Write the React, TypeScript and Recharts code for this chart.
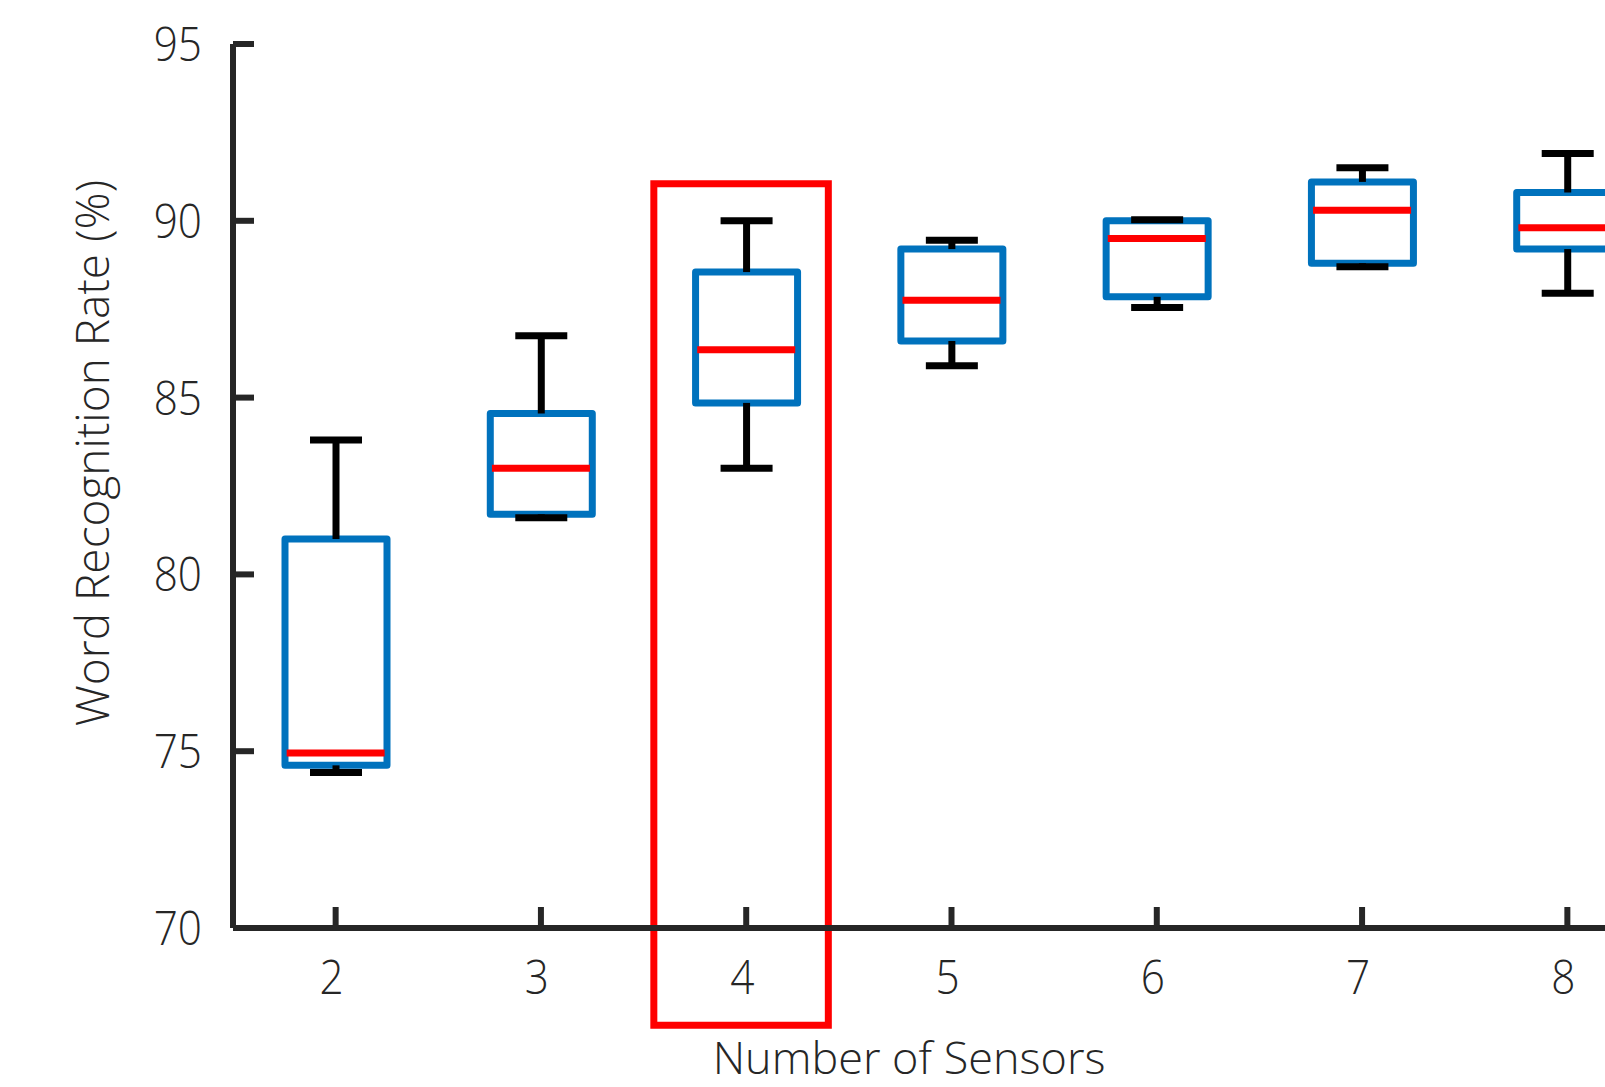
import React from 'react';
import { ComposedChart, Bar, Line, XAxis, YAxis, ReferenceArea } from 'recharts';

const sensors = ['2', '3', '4', '5', '6', '7', '8'];
const sensorNums = [2, 3, 4, 5, 6, 7, 8];
const minVals = [74.4, 81.6, 83.0, 85.9, 87.55, 88.7, 87.95];
const q1Vals = [74.6, 81.7, 84.85, 86.6, 87.85, 88.8, 89.2];
const medianVals = [74.95, 83.0, 86.35, 87.75, 89.5, 90.3, 89.8];
const q3Vals = [81.0, 84.55, 88.55, 89.2, 90.0, 91.1, 90.8];
const maxVals = [83.8, 86.75, 90.0, 89.45, 90.03, 91.5, 91.9];
const yTicks = [70, 75, 80, 85, 90, 95];
const highlightX = [3.55, 4.4];
const highlightY = [67.25, 91.05];

const data = sensors.map((n, i) => ({
  n,
  idx: sensorNums[i],
  box: [q1Vals[i], q3Vals[i]],
  upper: [q3Vals[i], maxVals[i]],
  lower: [minVals[i], q1Vals[i]],
  median: medianVals[i],
}));

const AXIS = '#262626';
const BLUE = '#0072BD';
const RED = '#FF0000';
const FONT = '"Open Sans", "DejaVu Sans", sans-serif';

const norm = (p: any) => {
  const top = Math.min(p.y, p.y + p.height);
  const h = Math.abs(p.height);
  return { top, h, x: p.x, w: p.width };
};

const BoxShape = (p: any) => {
  const { top, h, x, w } = norm(p);
  return <rect x={x} y={top} width={w} height={h} fill="#fff" stroke={BLUE} strokeWidth={7} strokeLinejoin="round" />;
};

const UpperShape = (p: any) => {
  const { top, h, x, w } = norm(p);
  const cx = x + w / 2;
  return (
    <g>
      <line x1={cx} x2={cx} y1={top} y2={top + h} stroke="#000" strokeWidth={7} />
      <line x1={x} x2={x + w} y1={top} y2={top} stroke="#000" strokeWidth={7} />
    </g>
  );
};

const LowerShape = (p: any) => {
  const { top, h, x, w } = norm(p);
  const cx = x + w / 2;
  return (
    <g>
      <line x1={cx} x2={cx} y1={top} y2={top + h} stroke="#000" strokeWidth={7} />
      <line x1={x} x2={x + w} y1={top + h} y2={top + h} stroke="#000" strokeWidth={7} />
    </g>
  );
};

const MedianDot = (p: any) => {
  const { cx, cy, index } = p;
  return <line key={`m${index}`} x1={cx - 49} x2={cx + 49} y1={cy} y2={cy} stroke={RED} strokeWidth={7} />;
};

const YTick = (p: any) => {
  const { x, y, payload } = p;
  return (
    <g>
      <line x1={x} x2={x + 21} y1={y} y2={y} stroke={AXIS} strokeWidth={6} />
      <text
        x={0}
        y={0}
        transform={`translate(${x - 31},${y + 17}) scale(0.9,1)`}
        textAnchor="end"
        fill={AXIS}
        fontSize={47}
        fontFamily={FONT}
        fontWeight={300}
      >
        {payload.value}
      </text>
    </g>
  );
};

const XTick = (p: any) => {
  const { x, y, payload } = p;
  return (
    <g>
      <line x1={x} x2={x} y1={y} y2={y - 21} stroke={AXIS} strokeWidth={6} />
      <text
        x={0}
        y={0}
        transform={`translate(${x - 4},${y + 66}) scale(0.9,1)`}
        textAnchor="middle"
        fill={AXIS}
        fontSize={47}
        fontFamily={FONT}
        fontWeight={300}
      >
        {payload.value}
      </text>
    </g>
  );
};

const TopTick = (p: any) => {
  const { x, y } = p;
  return <line x1={x} x2={x} y1={y} y2={y + 21} stroke={AXIS} strokeWidth={6} />;
};

export default function App() {
  return (
    <div style={{ position: 'fixed', left: 0, top: 0, width: 1605, height: 1087, overflow: 'hidden', background: '#fff' }}>
      <ComposedChart
        width={1700}
        height={1087}
        data={data}
        margin={{ top: 44, right: 30, bottom: 0, left: 83 }}
      >
        <XAxis
          xAxisId="box"
          dataKey="n"
          type="category"
          height={159}
          axisLine={{ stroke: AXIS, strokeWidth: 6 }}
          tickLine={false}
          tickSize={0}
          tickMargin={0}
          tick={<XTick />}
          interval={0}
        />
        <XAxis
          xAxisId="top"
          dataKey="n"
          type="category"
          orientation="top"
          height={0}
          axisLine={{ stroke: AXIS, strokeWidth: 6 }}
          tickLine={false}
          tickSize={0}
          tickMargin={0}
          tick={<TopTick />}
          interval={0}
        />
        <XAxis xAxisId="up" dataKey="n" type="category" hide />
        <XAxis xAxisId="low" dataKey="n" type="category" hide />
        <XAxis xAxisId="num" dataKey="idx" type="number" domain={[1.5, 8.5]} hide />
        <YAxis
          domain={[70, 95]}
          ticks={yTicks}
          width={150}
          axisLine={{ stroke: AXIS, strokeWidth: 6 }}
          tickLine={false}
          tickSize={0}
          tickMargin={0}
          tick={<YTick />}
          interval={0}
        />
        <Bar xAxisId="box" dataKey="box" barSize={102} shape={<BoxShape />} isAnimationActive={false} />
        <Bar xAxisId="up" dataKey="upper" barSize={52} shape={<UpperShape />} isAnimationActive={false} />
        <Bar xAxisId="low" dataKey="lower" barSize={52} shape={<LowerShape />} isAnimationActive={false} />
        <Line
          xAxisId="box"
          dataKey="median"
          stroke="none"
          dot={<MedianDot />}
          activeDot={false}
          isAnimationActive={false}
        />
        <ReferenceArea
          xAxisId="num"
          x1={highlightX[0]}
          x2={highlightX[1]}
          y1={highlightY[0]}
          y2={highlightY[1]}
          ifOverflow="visible"
          fill="none"
          stroke={RED}
          strokeWidth={7}
        />
      </ComposedChart>
      <svg
        width={1605}
        height={1087}
        style={{ position: 'absolute', left: 0, top: 0, pointerEvents: 'none' }}
      >
        <text
          transform="translate(109,453) rotate(-90)"
          textAnchor="middle"
          fill={AXIS}
          fontSize={46}
          fontFamily={FONT}
          fontWeight={300}
        >
          Word Recognition Rate (%)
        </text>
        <text
          x={909}
          y={1074}
          textAnchor="middle"
          fill={AXIS}
          fontSize={45}
          fontFamily={FONT}
          fontWeight={300}
        >
          Number of Sensors
        </text>
      </svg>
    </div>
  );
}
